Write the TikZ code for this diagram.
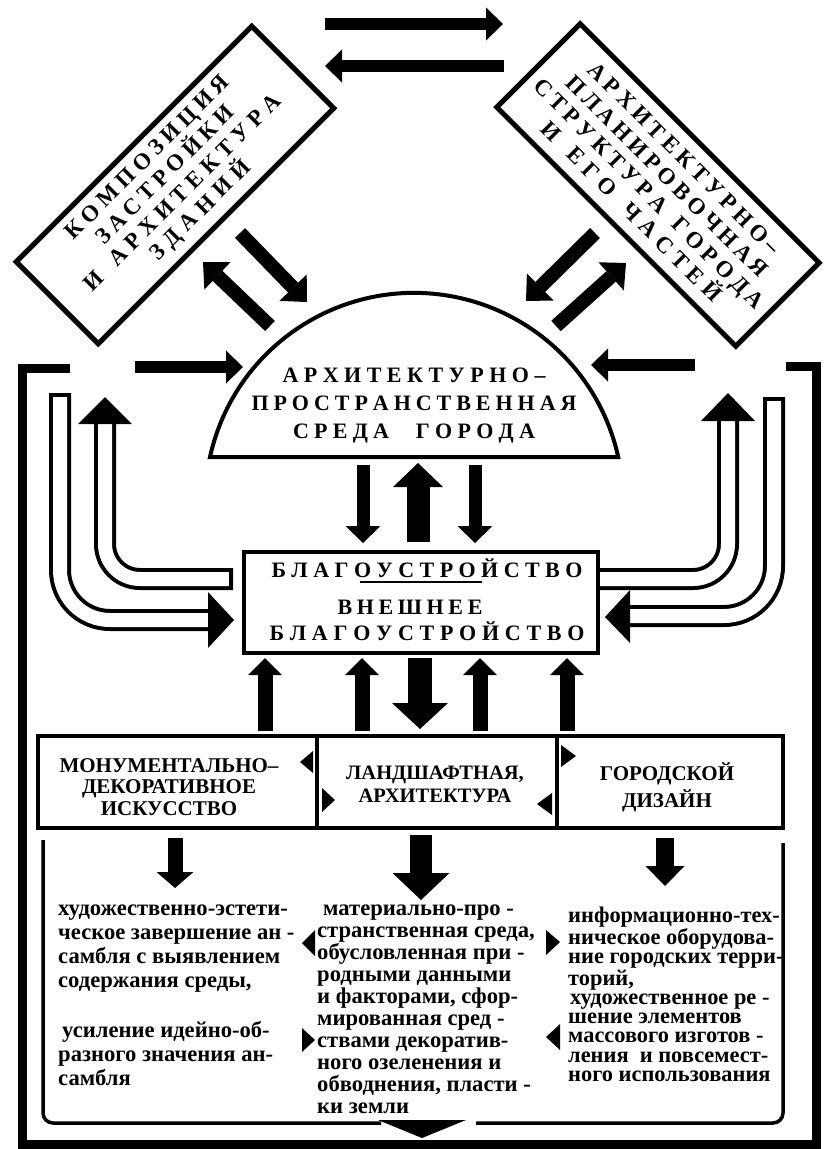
\documentclass[tikz,border=0pt]{standalone}
\usepackage{fontspec}
\setmainfont{Liberation Serif}
\usetikzlibrary{arrows.meta}
\newcommand\fstrut{\rule{0pt}{15pt}}
\newcommand\wsp{\hspace{0.25em}}
\newcommand\spread[2]{\makebox[#1][s]{\spreadA#2\relax}}
\def\spreadA#1{#1\spreadB}
\def\spreadB#1{\ifx\relax#1\else\hfil#1\expandafter\spreadB\fi}
\begin{document}
\begin{tikzpicture}[x=1pt,y=-1pt,
  arA/.style={line width=14pt,-{Triangle[width=38pt,length=20pt,line width=0pt]}},
  arB/.style={line width=12pt,-{Triangle[width=33pt,length=17pt,line width=0pt]}},
  arC/.style={line width=13pt,-{Triangle[width=35pt,length=17pt,line width=0pt]}},
  arD/.style={line width=15pt,-{Triangle[width=34pt,length=17pt,line width=0pt]}},
  arBig/.style={line width=23pt,-{Triangle[width=50pt,length=24pt,line width=0pt]}},
  pipeout/.style={line width=22pt},
  pipein/.style={line width=14pt,white},
  spc/.style={font=\bfseries\fontsize{22}{28}\selectfont},
  rot/.style={font=\bfseries\fontsize{23}{25}\selectfont},
  hd/.style={align=center,inner sep=0pt},
  body/.style={font=\bfseries\fontsize{22.6}{24}\selectfont,align=left,anchor=north west,inner sep=0pt},
  boxline/.style={draw,line width=4.5pt},
]
\useasboundingbox (0,0) rectangle (833,1149);

% top arrows between the rotated boxes
\coordinate (t1s) at (325,24); \coordinate (t1e) at (503,24);
\coordinate (t2s) at (504,66); \coordinate (t2e) at (325,66);
\draw[arB] (t1s) -- (t1e);
\draw[arB] (t2s) -- (t2e);

% rotated boxes
\node[boxline,line width=5pt,fill=white,minimum width=333pt,minimum height=116pt,rotate=45,align=center,rot] (lbox) at (175,185)
  {\spread{222pt}{КОМПОЗИЦИЯ}\\\spread{186pt}{ЗАСТРОЙКИ}\\\spread{269pt}{И\wsp АРХИТЕКТУРА}\\\spread{132pt}{ЗДАНИЙ}};
\node[boxline,line width=5pt,fill=white,minimum width=338pt,minimum height=118pt,rotate=-45,align=center,rot] (rbox) at (658,185)
  {\spread{261pt}{АРХИТЕКТУРНО–}\\\spread{275pt}{ПЛАНИРОВОЧНАЯ}\\\spread{315pt}{СТРУКТУРА\wsp ГОРОДА}\\\spread{245pt}{И\wsp ЕГО\wsp ЧАСТЕЙ}};

% diagonal arrows
\coordinate (d1s) at (240,233); \coordinate (d1e) at (307,302);
\coordinate (d2s) at (270,326); \coordinate (d2e) at (203,262);
\coordinate (d3s) at (595,233); \coordinate (d3e) at (526,301);
\coordinate (d4s) at (556,326); \coordinate (d4e) at (626,263);
\draw[arA] (d1s) -- (d1e);
\draw[arA] (d2s) -- (d2e);
\draw[arA] (d3s) -- (d3e);
\draw[arA] (d4s) -- (d4e);

% horizontal arrows into the dome
\coordinate (h1s) at (135,367); \coordinate (h1e) at (243,367);
\coordinate (h2s) at (695,365); \coordinate (h2e) at (591,365);
\draw[arB] (h1s) -- (h1e);
\draw[arB] (h2s) -- (h2e);

% outer frame
\draw[line width=9pt] (70,368) -- (22,368) -- (22,1144) -- (816,1144) -- (816,366) -- (786,366);

% dome
\draw[line width=4pt,fill=white] (210,457) arc[start angle=192.4,end angle=347.6,radius=209] -- cycle;
\node[spc,align=center] (dome) at (414,406)
  {\spread{263pt}{АРХИТЕКТУРНО–}\\\spread{325pt}{ПРОСТРАНСТВЕННАЯ}\\\spread{242pt}{СРЕДА\wsp\wsp ГОРОДА}};

% arrows dome <-> blag
\coordinate (v1s) at (363,465); \coordinate (v1e) at (363,543);
\coordinate (v2s) at (418,542); \coordinate (v2e) at (418,463);
\coordinate (v3s) at (475,465); \coordinate (v3e) at (475,543);
\draw[arC] (v1s) -- (v1e);
\draw[arBig] (v2s) -- (v2e);
\draw[arC] (v3s) -- (v3e);

% hollow bent arrows (pipes)
\draw[pipeout,rounded corners=35pt] (105,423) -- (105,579) -- (233,579);
\draw[pipein,rounded corners=35pt] (105,423) -- (105,579) -- (233,579);
\draw[line width=4pt] (231,568) -- (231,590);
\fill (78,424) -- (132,424) -- (105,397) -- cycle;
\draw[pipeout,rounded corners=50pt] (60,393) -- (60,620) -- (209,620);
\draw[pipein,rounded corners=50pt] (60,393) -- (60,620) -- (209,620);
\draw[line width=4pt] (49,395) -- (71,395);
\fill (208,592) -- (208,648) -- (234,620) -- cycle;
\draw[pipeout,rounded corners=35pt] (728,420) -- (728,579) -- (598,579);
\draw[pipein,rounded corners=35pt] (728,420) -- (728,579) -- (598,579);
\fill (701,421) -- (755,421) -- (728,393) -- cycle;
\draw[pipeout,rounded corners=50pt] (774,397) -- (774,616) -- (629,616);
\draw[pipein,rounded corners=50pt] (774,397) -- (774,616) -- (629,616);
\draw[line width=4pt] (763,399) -- (785,399);
\fill (630,590) -- (630,643) -- (605,617) -- cycle;

% blagoustroistvo box
\node[boxline,fill=white,minimum width=354pt,minimum height=101pt] (blag) at (421,602.5) {};
\node[align=center,anchor=north,inner sep=0pt,font=\bfseries\fontsize{22}{26}\selectfont] (blagT) at (427,557)
  {\rule{0pt}{20pt}\spread{311pt}{БЛАГОУСТРОЙСТВО}\\[11pt]\spread{145pt}{ВНЕШНЕЕ}\kern34pt\\\spread{315pt}{БЛАГОУСТРОЙСТВО}};
\coordinate (ulA) at (360,582); \coordinate (ulB) at (482,582);
\draw[line width=2pt] (ulA) -- (ulB);

% arrows between blag and row
\coordinate (u1s) at (265,731); \coordinate (u1e) at (265,658);
\coordinate (u2s) at (362,731); \coordinate (u2e) at (362,658);
\coordinate (u3s) at (420,658); \coordinate (u3e) at (420,729);
\coordinate (u4s) at (480,731); \coordinate (u4e) at (480,658);
\coordinate (u5s) at (567,731); \coordinate (u5e) at (567,658);
\draw[arD] (u1s) -- (u1e);
\draw[arD] (u2s) -- (u2e);
\draw[line width=24pt,-{Triangle[width=56pt,length=26pt,line width=0pt]}] (u3s) -- (u3e);
\draw[arD] (u4s) -- (u4e);
\draw[arD] (u5s) -- (u5e);

% row of three boxes
\node[boxline,minimum width=279pt,minimum height=92pt] (mon) at (177.5,782) {};
\node[boxline,minimum width=240pt,minimum height=92pt] (land) at (437,782) {};
\node[boxline,minimum width=226pt,minimum height=92pt] (gor) at (670,782) {};
\node[hd,font=\bfseries\fontsize{21}{21.5}\selectfont] (monT) at (169,787)
  {МОНУМЕНТАЛЬНО–\\ДЕКОРАТИВНОЕ\\ИСКУССТВО};
\node[hd,font=\bfseries\fontsize{20.5}{23}\selectfont] (landT) at (435,784.5)
  {ЛАНДШАФТНАЯ,\\АРХИТЕКТУРА};
\node[hd,font=\bfseries\fontsize{21}{27}\selectfont] (gorT) at (667,787.5)
  {ГОРОДСКОЙ\\ДИЗАЙН};

% small triangles in row
\fill (300,762) -- (313,751) -- (313,773) -- cycle;
\fill (335,800) -- (322,788) -- (322,812) -- cycle;
\fill (537,804) -- (552,793) -- (552,815) -- cycle;
\fill (576,756) -- (561,745) -- (561,767) -- cycle;

% down arrows to the texts
\coordinate (w1s) at (175,838); \coordinate (w1e) at (175,888);
\coordinate (w2s) at (421,835); \coordinate (w2e) at (421,900);
\coordinate (w3s) at (665,838); \coordinate (w3e) at (665,886);
\draw[line width=15pt,-{Triangle[width=37pt,length=16pt,line width=0pt]}] (w1s) -- (w1e);
\draw[line width=22pt,-{Triangle[width=57pt,length=27pt,line width=0pt]}] (w2s) -- (w2e);
\draw[line width=18pt,-{Triangle[width=39pt,length=20pt,line width=0pt]}] (w3s) -- (w3e);

% inner rounded bracket
\draw[line width=3.5pt,rounded corners=10pt] (43,840) -- (43,1123) -- (381,1123);
\draw[line width=3.5pt,rounded corners=10pt] (476,1123) -- (783,1123) -- (783,843);
\fill (378,1120) -- (466,1120) -- (422,1138) -- cycle;

% texts
\node[body] (txtL) at (58,900)
  {\fstrut художественно-эстети-\\ческое завершение ан -\\самбля с выявлением\\содержания среды,\\[26pt]\hspace*{4pt}усиление идейно-об-\\разного значения ан-\\самбля};
\node[body,font=\bfseries\fontsize{22.6}{22}\selectfont] (txtM) at (317,900)
  {\fstrut\hspace*{6pt}материально-про -\\странственная среда,\\обусловленная при -\\родными данными\\и факторами, сфор-\\мированная сред -\\ствами декоратив-\\ного озеленения и\\обводнения, пласти -\\ки земли};
\node[body,font=\bfseries\fontsize{22.4}{19.3}\selectfont] (txtR) at (568,907)
  {\fstrut информационно-тех-\\ническое оборудова-\\ние городских терри-\\торий,\\\hspace*{2pt}художественное ре -\\шение элементов\\массового изготов -\\ления~ и повсемест-\\ного использования};

% triangles beside the texts
\fill (302,943) -- (315,930) -- (315,956) -- cycle;
\fill (315,1040) -- (302,1028) -- (302,1052) -- cycle;
\fill (560,942) -- (546,930) -- (546,955) -- cycle;
\fill (546,1037) -- (560,1024) -- (560,1050) -- cycle;
\end{tikzpicture}
\end{document}
